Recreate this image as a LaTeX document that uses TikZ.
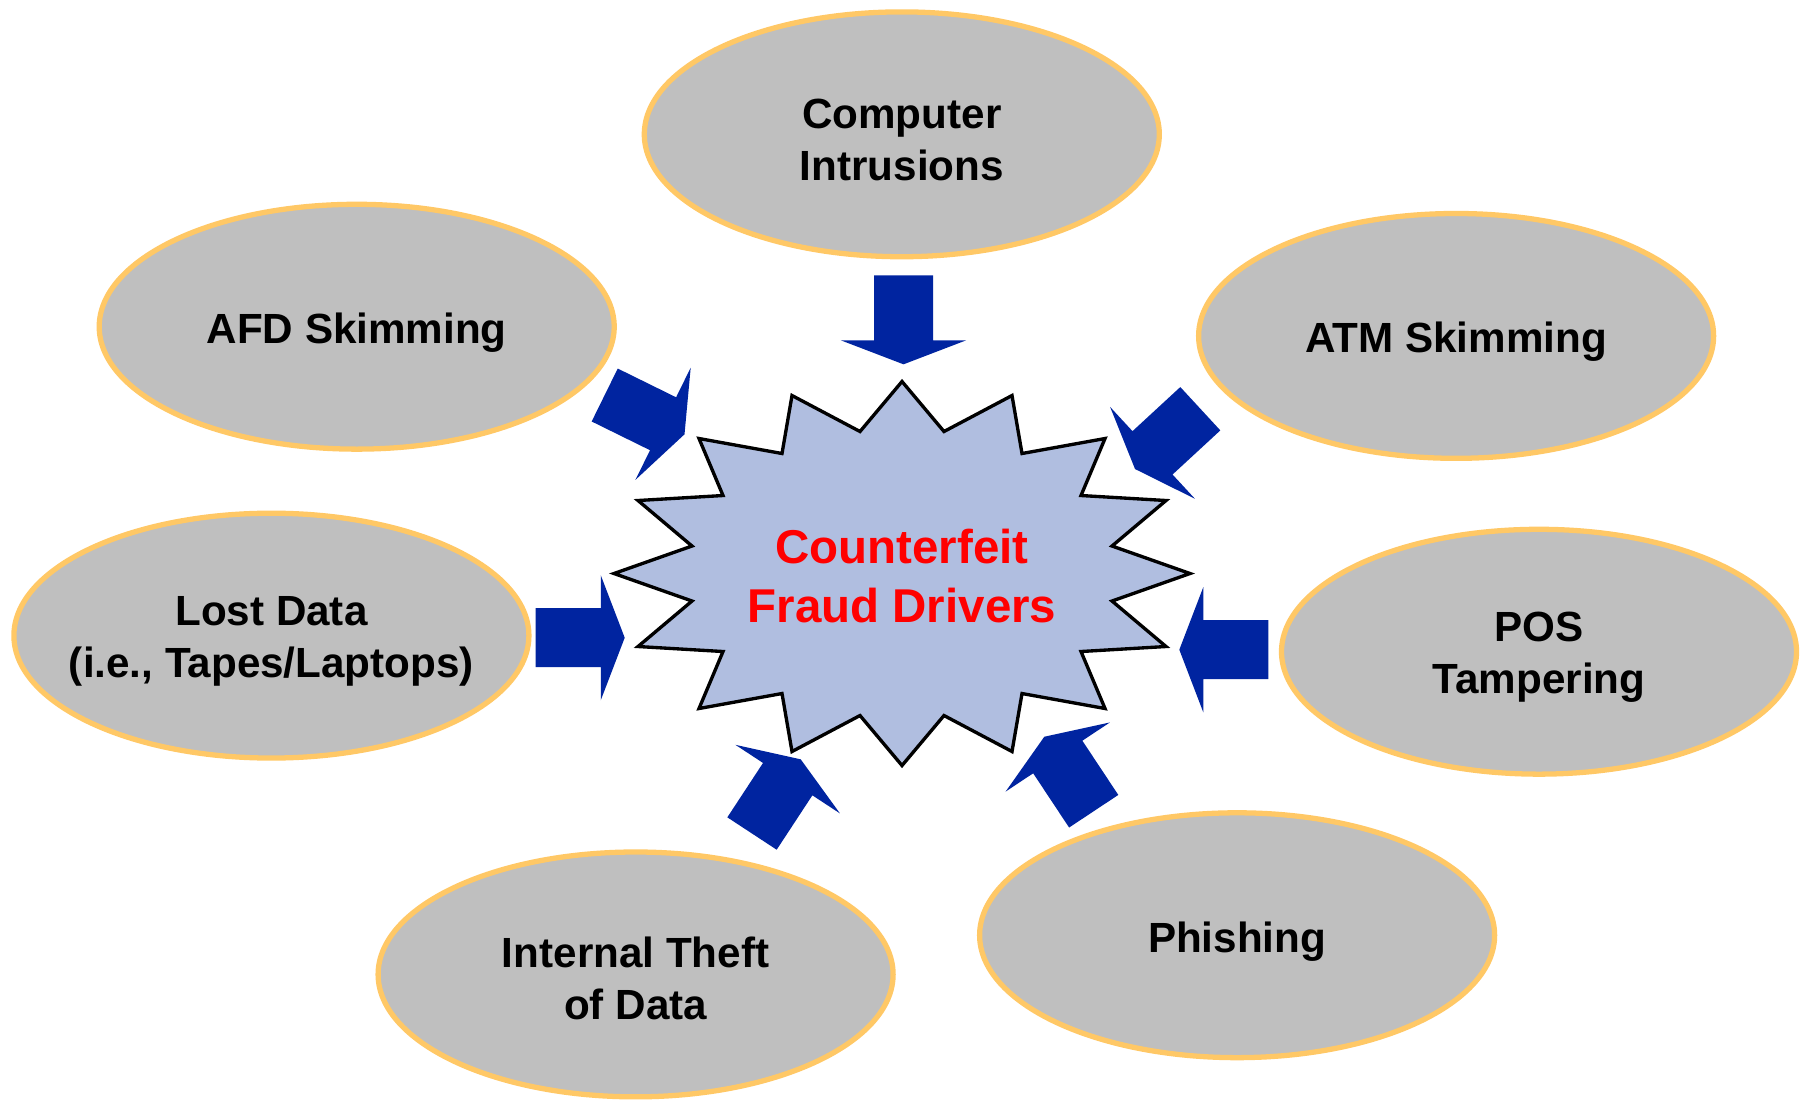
\documentclass[tikz,border=0pt]{standalone}
\usepackage{fontspec}
\setmainfont{Liberation Sans}
\usetikzlibrary{calc,shapes.geometric}
\definecolor{ellfill}{RGB}{191,191,191}
\definecolor{ellborder}{RGB}{255,200,102}
\definecolor{starfill}{RGB}{176,190,224}
\definecolor{arrowblue}{RGB}{0,36,160}
\definecolor{cfred}{RGB}{255,0,0}
\tikzset{
  ell/.style={ellipse, draw=ellborder, fill=ellfill, line width=1.5pt,
    minimum width=5.147cm, minimum height=2.447cm, inner sep=0pt},
  elltext/.style={align=center, inner sep=0pt, font=\fontsize{12}{14.8}\selectfont\bfseries},
  burst/.style={draw=black, fill=starfill, line width=0.95pt, line join=miter},
  blockfill/.style={fill=arrowblue},
  centertext/.style={text=cfred, align=center, font=\fontsize{13.5}{16.7}\selectfont\bfseries}
}
% #1 = tail coordinate, #2 = tip coordinate
\newcommand\myblockarrow[2]{%
  \coordinate (#1-b) at ($(#1)!18.5pt!(#2)$);
  \fill[blockfill] ($(#1)!8.39pt!90:(#2)$) -- ($(#1-b)!8.39pt!90:(#2)$)
    -- ($(#1-b)!17.78pt!90:(#2)$) -- (#2)
    -- ($(#1-b)!17.78pt!-90:(#2)$) -- ($(#1-b)!8.39pt!-90:(#2)$)
    -- ($(#1)!8.39pt!-90:(#2)$) -- cycle;
}
\begin{document}
\begin{tikzpicture}[x=0.01cm,y=-0.01cm]
\fill[white] (0,0) rectangle (1807,1102);
\useasboundingbox (0,0) rectangle (1807,1102);

% ellipses
\node[ell] (ci) at (901.8,134.3) {};
\node[ell] (afd) at (356.7,326.7) {};
\node[ell] (atm) at (1456.1,335.9) {};
\node[ell] (lost) at (271.4,635.6) {};
\node[ell] (pos) at (1539,651.7) {};
\node[ell] (phish) at (1237.1,935.2) {};
\node[ell] (theft) at (635.6,974.4) {};

\node[elltext] (ci-t) at ([yshift=-1.7pt]ci.center) {Computer\\Intrusions};
\node[elltext] (afd-t) at ([yshift=-1.7pt]afd.center) {AFD Skimming};
\node[elltext] (atm-t) at ([yshift=-1.7pt]atm.center) {ATM Skimming};
\node[elltext] (lost-t) at ([yshift=-1.7pt]lost.center) {Lost Data\\(i.e., Tapes/Laptops)};
\node[elltext] (pos-t) at ([yshift=-1.7pt]pos.center) {POS\\Tampering};
\node[elltext] (phish-t) at ([yshift=-1.7pt]phish.center) {Phishing};
\node[elltext] (theft-t) at ([yshift=-1.0pt]theft.center) {Internal Theft\\of Data};

% star burst
\coordinate (c) at (902,573.5);
\begin{scope}[shift={(c)}]
\draw[burst] (0,-192) -- (42,-142) -- (110,-178) -- (120,-120) -- (203,-135)
  -- (179,-78) -- (264,-73) -- (210,-27.5) -- (288,0) -- (210,27.5)
  -- (264,73) -- (179,78) -- (203,135) -- (120,120) -- (110,178)
  -- (42,142) -- (0,192) -- (-42,142) -- (-110,178) -- (-120,120)
  -- (-203,135) -- (-179,78) -- (-264,73) -- (-210,27.5) -- (-288,0)
  -- (-210,-27.5) -- (-264,-73) -- (-179,-78) -- (-203,-135) -- (-120,-120)
  -- (-110,-178) -- (-42,-142) -- cycle;
\end{scope}
\node[centertext] (cf) at (902,576) {Counterfeit\\Fraud Drivers};

% arrow end points
\coordinate (ciT) at (903.5,275.3);   \coordinate (ciH) at (903.5,364.3);
\coordinate (afdT) at (604.7,395);    \coordinate (afdH) at (684.5,434.3);
\coordinate (atmT) at (1200.3,408.7); \coordinate (atmH) at (1135,469);
\coordinate (lostT) at (535.7,637.7); \coordinate (lostH) at (624.7,637.7);
\coordinate (posT) at (1268.3,649.7); \coordinate (posH) at (1179.3,649.7);
\coordinate (theftT) at (752,833.5);  \coordinate (theftH) at (800.7,759.3);
\coordinate (phishT) at (1093.7,811.2); \coordinate (phishH) at (1044.3,736.7);

\myblockarrow{ciT}{ciH}
\myblockarrow{afdT}{afdH}
\myblockarrow{atmT}{atmH}
\myblockarrow{lostT}{lostH}
\myblockarrow{posT}{posH}
\myblockarrow{theftT}{theftH}
\myblockarrow{phishT}{phishH}
\end{tikzpicture}
\end{document}
